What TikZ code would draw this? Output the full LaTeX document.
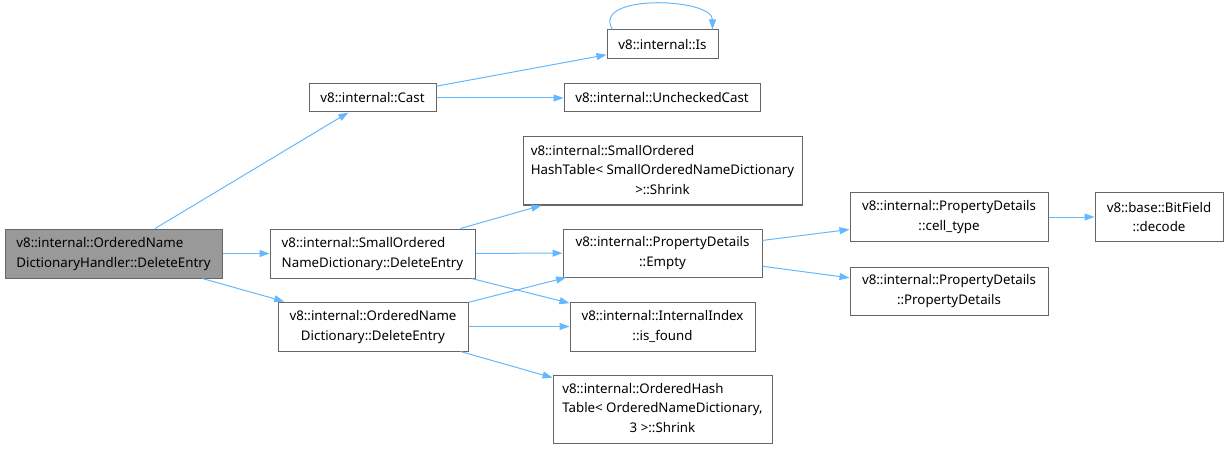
\documentclass[tikz,border=0pt]{standalone}
\usepackage{fontspec}
\setmainfont{Noto Sans}
\usetikzlibrary{arrows.meta}

\definecolor{edgeblue}{HTML}{63B8FF}
\definecolor{boxgray}{HTML}{666666}
\definecolor{hlgray}{HTML}{999999}

% first lines left, last line centred
\newcommand{\lastc}[2]{\begin{tabular}{@{}l@{}}#1\\\multicolumn{1}{@{}c@{}}{#2}\end{tabular}}

\begin{document}
\begin{tikzpicture}[
    x=1pt, y=-1pt,
    >={Triangle[length=10pt,width=7pt]},
    every node/.style={font=\fontsize{13.3}{19.5}\selectfont},
    box/.style={draw=boxgray, line width=1pt, fill=white, align=center, inner sep=0pt},
    hl/.style={box, fill=hlgray},
    arr/.style={->, draw=edgeblue, line width=1pt}
]
\useasboundingbox (0,0) rectangle (1228,449);

% Caller
\node[hl, minimum width=217pt, minimum height=49pt] (main) at (113.5,253.5) {\lastc{v8::internal::OrderedName}{DictionaryHandler::DeleteEntry}};

% First level
\node[box, minimum width=127pt, minimum height=28pt] (cast) at (372.5,98) {v8::internal::Cast};
\node[box, minimum width=205pt, minimum height=49pt] (sdel) at (372.5,253.5) {\lastc{v8::internal::SmallOrdered}{NameDictionary::DeleteEntry}};
\node[box, minimum width=190pt, minimum height=49pt] (odel) at (373,326.5) {\lastc{v8::internal::OrderedName}{Dictionary::DeleteEntry}};

% Second level
\node[box, minimum width=111pt, minimum height=29pt] (is) at (662.5,44.5) {v8::internal::Is};
\node[box, minimum width=196pt, minimum height=28pt] (unchecked) at (662,98) {v8::internal::UncheckedCast};
\node[box, minimum width=279pt, minimum height=68pt] (sshrink) at (662.5,171) {\lastc{v8::internal::SmallOrdered\\HashTable< SmallOrderedNameDictionary}{>::Shrink}};
\node[box, minimum width=199pt, minimum height=48pt] (empty) at (662.5,253) {v8::internal::PropertyDetails\\::Empty};
\node[box, minimum width=185pt, minimum height=49pt] (found) at (662.5,326.5) {v8::internal::InternalIndex\\::is\_found};
\node[box, minimum width=219pt, minimum height=68pt] (oshrink) at (662.5,409) {\lastc{v8::internal::OrderedHash\\Table< OrderedNameDictionary,}{3 >::Shrink}};

% Third level
\node[box, minimum width=198pt, minimum height=48pt] (celltype) at (949,217) {v8::internal::PropertyDetails\\::cell\_type};
\node[box, minimum width=198pt, minimum height=48pt] (pdetails) at (949,291) {v8::internal::PropertyDetails\\::PropertyDetails};
\node[box, minimum width=128pt, minimum height=48pt] (decode) at (1159,217) {v8::base::BitField\\::decode};

% Calls
\draw[arr] (main) -- (cast);
\draw[arr] (main) -- (sdel);
\draw[arr] (main) -- (odel);
\draw[arr] (cast) -- (is);
\draw[arr] (cast) -- (unchecked);
\draw[arr] ([xshift=6pt]is.north west) .. controls +(-22,-36) and +(0,-32) .. ([xshift=-6pt]is.north east);
\draw[arr] (sdel) -- (sshrink);
\draw[arr] (sdel) -- (empty);
\draw[arr] (sdel) -- (found);
\draw[arr] (odel) -- (empty);
\draw[arr] (odel) -- (found);
\draw[arr] (odel) -- (oshrink);
\draw[arr] (empty) -- (celltype);
\draw[arr] (empty) -- (pdetails);
\draw[arr] (celltype) -- (decode);

\end{tikzpicture}
\end{document}
